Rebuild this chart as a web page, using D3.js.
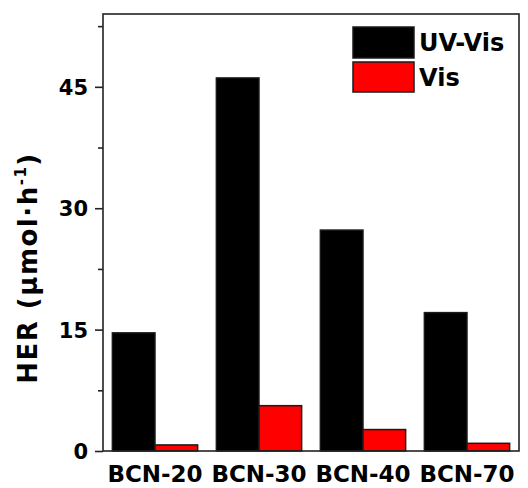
<!DOCTYPE html>
<html>
<head>
<meta charset="utf-8">
<script src="https://cdn.jsdelivr.net/npm/d3@7.9.0/dist/d3.min.js"></script>
<style>
  body { margin: 0; background: #fff; }
  text { font-family: "DejaVu Sans", Arial, sans-serif; font-weight: bold; fill: #000; }
</style>
</head>
<body>
<svg id="chart" width="528" height="488"></svg>
<script>
// Data
const samples = ['BCN-20', 'BCN-30', 'BCN-40', 'BCN-70'];
const seriesNames = ['UV-Vis', 'Vis'];
const uvVis = [14.6, 46.1, 27.3, 17.1];
const vis = [0.75, 5.6, 2.65, 0.95];
const yTicks = [0, 15, 30, 45];
const yMinorTicks = [7.5, 22.5, 37.5, 52.5];
const colors = ['#000000', '#ff0000'];

const width = 528, height = 488;
const margin = { top: 14, right: 9, bottom: 37, left: 103 };

const svg = d3.select('#chart');

const x = d3.scaleBand()
  .domain(samples)
  .range([margin.left, width - margin.right])
  .paddingInner(0.18)
  .paddingOuter(0.09);

const xInner = d3.scaleBand()
  .domain(seriesNames)
  .range([0, x.bandwidth()]);

const y = d3.scaleLinear()
  .domain([0, 54])
  .range([height - margin.bottom, margin.top]);

// bars
const rows = samples.map((s, i) => ({ sample: s, values: [uvVis[i], vis[i]] }));

const groups = svg.append('g')
  .selectAll('g')
  .data(rows)
  .join('g')
  .attr('transform', (d) => `translate(${x(d.sample)},0)`);

groups.selectAll('rect')
  .data((d) => d.values.map((v, i) => ({ key: seriesNames[i], value: v, i })))
  .join('rect')
  .attr('x', (d) => xInner(d.key))
  .attr('y', (d) => y(d.value))
  .attr('width', xInner.bandwidth())
  .attr('height', (d) => y(0) - y(d.value))
  .attr('fill', (d) => colors[d.i])
  .attr('stroke', '#1a1a1a')
  .attr('stroke-width', 1.5);

// frame
svg.append('rect')
  .attr('x', margin.left)
  .attr('y', margin.top)
  .attr('width', width - margin.left - margin.right)
  .attr('height', height - margin.top - margin.bottom)
  .attr('fill', 'none')
  .attr('stroke', '#222')
  .attr('stroke-width', 1.6);

// y axis, major ticks
const yAxis = svg.append('g')
  .attr('transform', `translate(${margin.left},0)`)
  .call(d3.axisLeft(y).tickValues(yTicks).tickSize(8).tickPadding(7).tickFormat(d3.format('d')));
yAxis.select('.domain').remove();
yAxis.selectAll('line').attr('stroke', '#222').attr('stroke-width', 1.6);
yAxis.selectAll('text')
  .attr('font-size', 21)
  .attr('dy', '0.36em');

// y axis, minor ticks
const yMinor = svg.append('g')
  .attr('transform', `translate(${margin.left},0)`)
  .call(d3.axisLeft(y).tickValues(yMinorTicks).tickSize(5).tickFormat(''));
yMinor.select('.domain').remove();
yMinor.selectAll('line').attr('stroke', '#222').attr('stroke-width', 1.6);

// x axis labels
const xAxis = svg.append('g')
  .attr('transform', `translate(0,${height - margin.bottom})`)
  .call(d3.axisBottom(x).tickSize(0).tickPadding(15));
xAxis.select('.domain').remove();
xAxis.selectAll('text')
  .attr('font-size', 23)
  .attr('dy', '0.71em');

// y title
const title = svg.append('text')
  .attr('transform', 'translate(37,268) rotate(-90)')
  .attr('text-anchor', 'middle')
  .attr('font-size', 26)
  .attr('letter-spacing', 1.5);
title.append('tspan').text('HER (μmol·h');
title.append('tspan').attr('font-size', 15).attr('dy', -11).text('-1');
title.append('tspan').attr('dy', 11).text(')');

// legend
const legend = svg.append('g');
const legendRows = [
  { name: seriesNames[0], color: colors[0], y: 27, h: 31 },
  { name: seriesNames[1], color: colors[1], y: 62, h: 30 }
];
legend.selectAll('rect')
  .data(legendRows)
  .join('rect')
  .attr('x', 353)
  .attr('y', (d) => d.y)
  .attr('width', 61)
  .attr('height', (d) => d.h)
  .attr('fill', (d) => d.color)
  .attr('stroke', '#1a1a1a')
  .attr('stroke-width', 1.5);
legend.selectAll('text')
  .data(legendRows)
  .join('text')
  .attr('x', 419)
  .attr('y', (d) => d.y + d.h / 2 + 8.5)
  .attr('font-size', 24)
  .text((d) => d.name);
</script>
</body>
</html>
